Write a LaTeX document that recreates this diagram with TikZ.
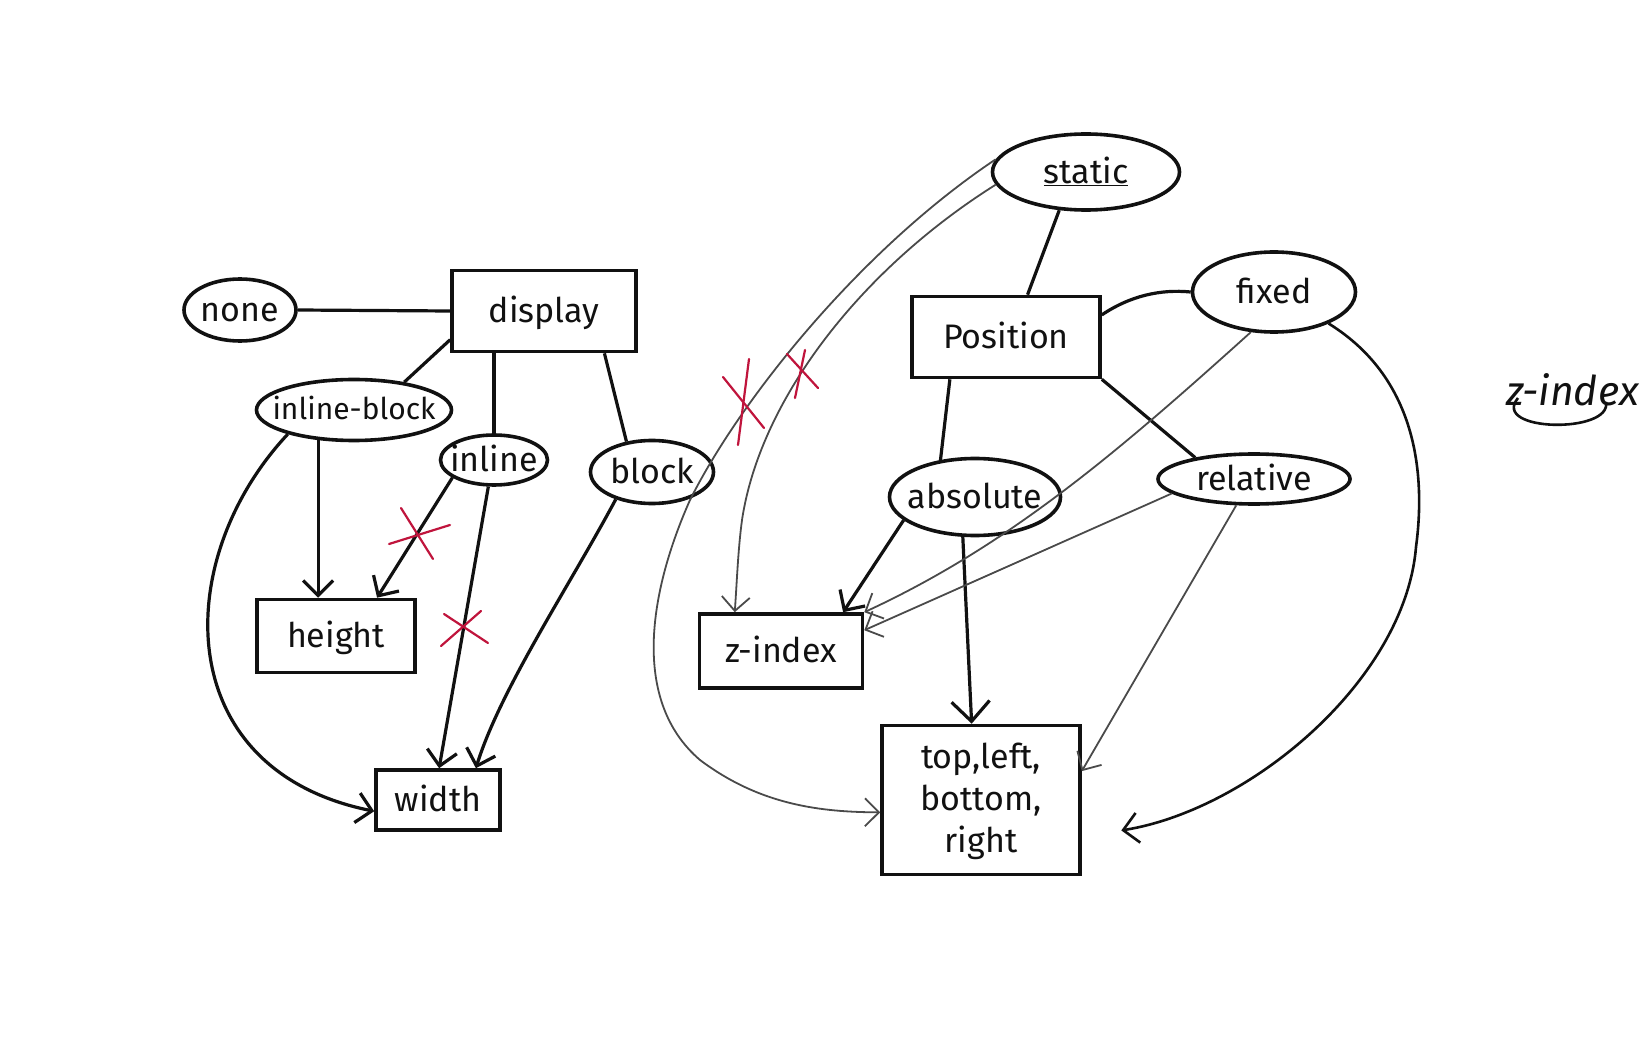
\documentclass[tikz,border=0pt]{standalone}
\usepackage{fontspec}
\setmainfont{Fira Sans}
\usetikzlibrary{arrows.meta,calc,shapes.geometric}
\definecolor{ink}{HTML}{111111}
\definecolor{pencil}{HTML}{4A4A4A}
\definecolor{redink}{HTML}{C0143C}
% centred label that does not enlarge its shape
\newcommand\boxtxt[1]{\makebox[0pt]{\raisebox{-0.33em}[0pt][0pt]{#1}}}
\newcommand\stacktxt[1]{\makebox[0pt]{\raisebox{-0.25em}[0pt][0pt]{\begin{tabular}{@{}c@{}}#1\end{tabular}}}}
\tikzset{
  lbl/.style={font=\fontsize{34}{42}\selectfont, text=ink, inner sep=0pt},
  oval/.style={lbl, ellipse, draw=ink, line width=3.6pt},
  box/.style={lbl, rectangle, draw=ink, line width=3.6pt},
  link/.style={draw=ink, line width=3.2pt},
  arr/.style={link, -{Straight Barb[length=15pt,width=30pt]}},
  bigarr/.style={link, -{Straight Barb[length=20pt,width=38pt]}},
  thin/.style={draw=pencil, line width=1.8pt},
  tarr/.style={thin, -{Straight Barb[length=14pt,width=28pt]}},
  cross/.style={draw=redink, line width=2.2pt, line cap=round},
}
\begin{document}
\begin{tikzpicture}[x=1pt,y=-1pt]
\fill[white] (0,0) rectangle (1647,1064);
\useasboundingbox (0,0) rectangle (1647,1064);

% ---- display group ----
\node[oval, minimum width=112pt, minimum height=62pt] (none) at (240,310) {\boxtxt{none}};
\node[box, minimum width=184pt, minimum height=81pt] (display) at (544,311) {\boxtxt{display}};
\node[oval, minimum width=195pt, minimum height=61pt, font=\fontsize{30}{36}\selectfont] (ib) at (354,410) {\boxtxt{inline-block}};
\node[oval, minimum width=107pt, minimum height=50pt] (inline) at (494,460) {\boxtxt{inline}};
\node[oval, minimum width=123pt, minimum height=63pt] (block) at (652,472) {\boxtxt{block}};
\node[box, minimum width=158pt, minimum height=73pt] (height) at (336,636) {\boxtxt{height}};
\node[box, minimum width=124pt, minimum height=60pt] (width) at (438,800) {\boxtxt{width}};

% ---- position group ----
\node[oval, minimum width=187pt, minimum height=76pt] (static) at (1086,172) {\boxtxt{\underline{static}}};
\node[box, minimum width=188pt, minimum height=81pt] (position) at (1006,337) {\boxtxt{Position}};
\node[oval, minimum width=163pt, minimum height=80pt] (fixed) at (1274,292) {\boxtxt{fixed}};
\node[oval, minimum width=171pt, minimum height=77pt] (absolute) at (975,497) {\boxtxt{absolute}};
\node[oval, minimum width=192pt, minimum height=50pt] (relative) at (1254,479) {\boxtxt{relative}};
\node[box, minimum width=163pt, minimum height=74pt] (zindex) at (781,651) {\boxtxt{z-index}};
\node[box, minimum width=198pt, minimum height=149pt] (toplbr) at (981,800) {\stacktxt{top,left,\\bottom,\\right}};

% scribbled note near the edge
\node[lbl, font=\fontsize{41}{46}\selectfont\itshape, anchor=base west] (note) at (1506,406) {z-index};
\draw[link, line width=2.6pt] (1518,398) .. controls (1490,432) and (1612,434) .. (1606,402);

% ---- display connectors ----
\draw[link] (none.east) -- (display.west);
\draw[link] (ib.29) -- (display.197);
\draw[link] (inline.north) -- (inline.north |- display.south);
\draw[link] (display.-35) -- (block.130);
\draw[arr] (ib.220) -- (ib.220 |- height.north);
\draw[arr] (inline.203) -- (height.43);
\draw[arr] (inline.258) -- (width.88);
\draw[arr] (block.217) .. controls (570,585) and (500,690) .. (width.40);
\draw[arr] (ib.200) .. controls (170,560) and (170,770) .. (width.190);

% crossed-out relations
\draw[cross] (389,544) -- (450,525);
\draw[cross] (401,508) -- (433,559);
\draw[cross] (444,614) -- (488,643);
\draw[cross] (441,646) -- (481,611);

% ---- position connectors ----
\draw[link] (static.235) -- (position.63);
\draw[link] (position.13) .. controls (1130,296) and (1160,289) .. (fixed.180);
\draw[link] (position.217) -- (absolute.133);
\draw[link] (position.south east) -- (relative.160);
\draw[arr] (absolute.198) -- (zindex.32);
\draw[bigarr] (absolute.253) -- (toplbr.97);
\draw[tarr] (fixed.240) .. controls (1120,450) and (1010,545) .. (zindex.north east);
\draw[tarr] (relative.190) -- (zindex.14);
\draw[tarr] (relative.236) -- (toplbr.16);
\draw[link, line width=2.6pt, -{Straight Barb[length=15pt,width=30pt]}, shorten >=40pt]
  (fixed.-30) .. controls (1420,380) and (1425,480) .. (1416,547)
  .. controls (1405,680) and (1250,810) .. (toplbr.-20);

% static's links, both crossed out
\draw[tarr] (static.188) .. controls (860,270) and (760,400) .. (742,520)
  .. controls (738,550) and (737,580) .. (zindex.140);
\draw[tarr] (static.172) .. controls (860,250) and (740,400) .. (690,500)
  .. controls (650,590) and (630,700) .. (700,760)
  .. controls (760,805) and (820,812) .. (toplbr.187);
\draw[cross] (723,377) -- (764,428);
\draw[cross] (749,359) -- (738,445);
\draw[cross] (787,354) -- (818,388);
\draw[cross] (805,350) -- (795,398);
\end{tikzpicture}
\end{document}
